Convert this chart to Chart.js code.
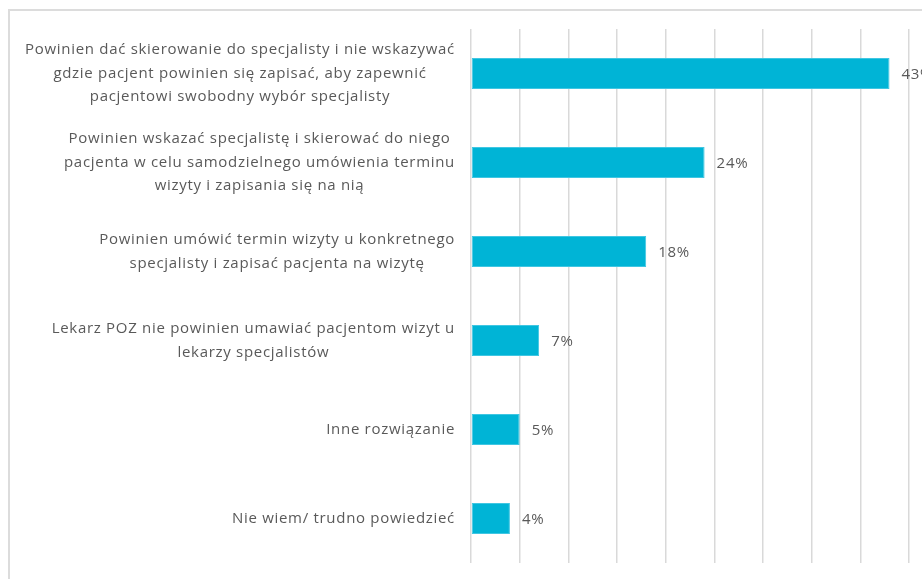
<!DOCTYPE html>
<html lang="pl">
<head>
<meta charset="utf-8">
<title>Wizyty u specjalisty</title>
<script src="https://cdn.jsdelivr.net/npm/chart.js@4.4.1/dist/chart.umd.min.js"></script>
<style>
    html, body { margin: 0; padding: 0; background: #fff; overflow: hidden; }
    .frame {
        position: absolute; left: 8px; top: 9px; width: 1000px; height: 700px;
        border-top: 2px solid #dcdcdc; border-left: 2px solid #dcdcdc;
    }
    .wrap { position: absolute; left: 0; top: 0; width: 922px; height: 579px; }
</style>
</head>
<body>
<div class="frame"></div>
<div class="wrap"><canvas id="answersChart"></canvas></div>
<script>
// Answers, each label split into its printed lines
const answers = [
    ['Powinien dać skierowanie do specjalisty i nie wskazywać', 'gdzie pacjent powinien się zapisać, aby zapewnić', 'pacjentowi swobodny wybór specjalisty'],
    ['Powinien wskazać specjalistę i skierować do niego', 'pacjenta w celu samodzielnego umówienia terminu', 'wizyty i zapisania się na nią'],
    ['Powinien umówić termin wizyty u konkretnego', 'specjalisty i zapisać pacjenta na wizytę'],
    ['Lekarz POZ nie powinien umawiać pacjentom wizyt u', 'lekarzy specjalistów'],
    ['Inne rozwiązanie'],
    ['Nie wiem/ trudno powiedzieć']
];
const shares = [43, 24, 18, 7, 5, 4];
const gridSteps = [0, 5, 10, 15, 20, 25, 30, 35, 40, 45];

const textColor = '#595959';
const textFont = '15px "Open Sans", "Noto Sans", sans-serif';
const textSpacing = '0.7px';

// Category labels: each block right-aligned next to the axis, lines centred inside it
const answerLabels = {
    id: 'answerLabels',
    afterDraw(chart) {
        const ctx = chart.ctx;
        const y = chart.scales.y;
        const right = chart.chartArea.left - 16;
        const lineH = 23.5;
        ctx.save();
        ctx.font = textFont;
        ctx.letterSpacing = textSpacing;
        ctx.fillStyle = textColor;
        ctx.textAlign = 'center';
        ctx.textBaseline = 'middle';
        answers.forEach((lines, i) => {
            const widest = Math.max(...lines.map(l => ctx.measureText(l).width));
            const cx = right - widest / 2;
            const cy = y.getPixelForValue(i);
            lines.forEach((line, k) => {
                ctx.fillText(line, cx, cy + (k - (lines.length - 1) / 2) * lineH);
            });
        });
        ctx.restore();
    }
};

// Percent values after the end of each bar
const valueLabels = {
    id: 'valueLabels',
    afterDatasetsDraw(chart) {
        const ctx = chart.ctx;
        const meta = chart.getDatasetMeta(0);
        ctx.save();
        ctx.font = textFont;
        ctx.letterSpacing = textSpacing;
        ctx.fillStyle = textColor;
        ctx.textAlign = 'left';
        ctx.textBaseline = 'middle';
        meta.data.forEach((bar, i) => {
            ctx.fillText(shares[i] + '%', bar.x + 12, bar.y + 1);
        });
        ctx.restore();
    }
};

new Chart(document.getElementById('answersChart'), {
    type: 'bar',
    data: {
        labels: answers,
        datasets: [{
            data: shares,
            backgroundColor: '#00b4d6',
            borderColor: '#40c6e2',
            borderWidth: 1,
            borderSkipped: false,
            categoryPercentage: 1,
            barPercentage: 0.35
        }]
    },
    options: {
        indexAxis: 'y',
        responsive: true,
        maintainAspectRatio: false,
        animation: false,
        layout: { padding: { left: 471, right: 13, top: 29, bottom: 16 } },
        plugins: {
            legend: { display: false },
            tooltip: { enabled: false }
        },
        scales: {
            x: {
                min: 0,
                max: 45,
                afterBuildTicks: s => { s.ticks = gridSteps.map(v => ({ value: v })); },
                afterFit: s => { s.height = 0; },
                ticks: { display: false },
                grid: { color: '#d9d9d9', lineWidth: 1.5, drawTicks: false },
                border: { display: false }
            },
            y: {
                afterFit: s => { s.width = 0; },
                ticks: { display: false },
                grid: { display: false, drawTicks: false },
                border: { display: false }
            }
        }
    },
    plugins: [answerLabels, valueLabels]
});
</script>
</body>
</html>
